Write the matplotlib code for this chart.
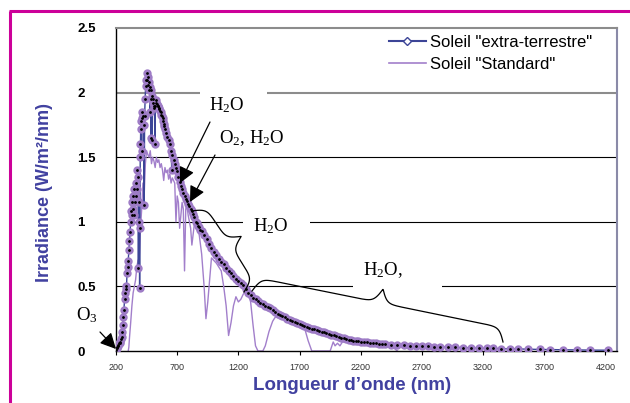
import numpy as np
import matplotlib
matplotlib.use("Agg")
import matplotlib.pyplot as plt
from matplotlib.lines import Line2D
from matplotlib.patches import Rectangle

plt.rcParams['font.family'] = ['Liberation Sans', 'DejaVu Sans']
plt.rcParams['mathtext.fontset'] = 'custom'
plt.rcParams['mathtext.rm'] = 'Liberation Serif'
plt.rcParams['mathtext.it'] = 'Liberation Serif:italic'
plt.rcParams['mathtext.bf'] = 'Liberation Serif:bold'

# ---------------- data ----------------
et_nm = [200, 205, 210, 215, 220, 225, 230, 235, 240, 245, 250, 255, 260, 265, 270, 275, 280, 285, 290, 295,
         300, 305, 310, 315, 320, 324, 328, 332, 336, 340, 345, 350, 355, 360, 365, 370, 375, 380, 383, 386,
         390, 393, 396, 398, 400, 403, 406, 410, 413, 416, 420, 425, 430, 434, 438, 442, 446, 450, 454, 458,
         462, 466, 470, 474, 478, 482, 486, 490, 494, 498, 502, 506, 510, 514, 518, 522, 526, 530, 535, 540,
         545, 550, 555, 560, 565, 570, 575, 580, 585, 590, 595, 600, 610, 620, 630, 640, 650, 656, 660, 670,
         680, 690, 700, 710, 720, 730, 740, 750, 760, 770, 780, 790, 800, 810, 820, 830, 840, 850, 860, 870,
         880, 890, 900, 920, 940, 960, 980, 1000, 1020, 1040, 1060, 1080, 1100, 1120, 1140, 1160, 1180, 1200,
         1220, 1240, 1260, 1280, 1300, 1320, 1340, 1360, 1380, 1400, 1420, 1440, 1460, 1480, 1500, 1520, 1540,
         1560, 1580, 1600, 1620, 1640, 1660, 1680, 1700, 1720, 1740, 1760, 1780, 1800, 1820, 1840, 1860, 1880,
         1900, 1920, 1940, 1960, 1980, 2000, 2020, 2040, 2060, 2080, 2100, 2120, 2140, 2160, 2180, 2200, 2225,
         2250, 2275, 2300, 2325, 2350, 2375, 2400, 2450, 2500, 2550, 2600, 2650, 2700, 2750, 2800, 2850, 2910,
         2970, 3035, 3100, 3170, 3230, 3280, 3350, 3420, 3485, 3565, 3665, 3745, 3850, 3965, 4070, 4220]
et_val = [0.01, 0.02, 0.03, 0.04, 0.05, 0.06, 0.07, 0.06, 0.09, 0.11, 0.15, 0.2, 0.26, 0.32, 0.4, 0.45, 0.5, 0.48, 0.6, 0.65,
          0.7, 0.78, 0.85, 0.92, 1.0, 1.08, 1.15, 1.05, 1.1, 1.2, 1.05, 1.25, 1.15, 1.3, 1.2, 1.4, 1.25, 1.35, 0.64, 1.15,
          1.0, 0.49, 0.95, 1.5, 1.6, 1.78, 1.72, 1.55, 1.8, 1.85, 1.82, 1.75, 1.13, 1.82, 1.95, 2.05, 2.1, 2.15, 2.1, 2.12,
          2.06, 2.08, 2.02, 2.04, 1.85, 2.02, 1.65, 1.95, 1.63, 1.97, 1.92, 1.95, 1.9, 1.88, 1.6, 1.9, 1.92, 1.94, 1.91, 1.9,
          1.9, 1.88, 1.87, 1.86, 1.85, 1.83, 1.82, 1.8, 1.78, 1.76, 1.74, 1.72, 1.69, 1.66, 1.63, 1.6, 1.55, 1.4, 1.52, 1.48,
          1.45, 1.42, 1.39, 1.35, 1.31, 1.28, 1.25, 1.22, 1.2, 1.18, 1.16, 1.14, 1.12, 1.1, 1.08, 1.06, 1.04, 1.0, 0.99, 0.97,
          0.96, 0.94, 0.93, 0.9, 0.87, 0.83, 0.8, 0.77, 0.74, 0.71, 0.69, 0.67, 0.64, 0.62, 0.6, 0.58, 0.56, 0.54,
          0.525, 0.51, 0.48, 0.45, 0.43, 0.41, 0.4, 0.385, 0.37, 0.36, 0.35, 0.34, 0.33, 0.315, 0.3, 0.29, 0.28,
          0.27, 0.26, 0.25, 0.24, 0.232, 0.224, 0.216, 0.208, 0.2, 0.193, 0.186, 0.18, 0.174, 0.168, 0.162, 0.156, 0.15,
          0.144, 0.138, 0.132, 0.126, 0.12, 0.114, 0.108, 0.102, 0.097, 0.092, 0.087, 0.084, 0.081, 0.078, 0.075, 0.072, 0.069,
          0.066, 0.063, 0.061, 0.059, 0.057, 0.055, 0.053, 0.05, 0.047, 0.044, 0.042, 0.04, 0.038, 0.036, 0.034, 0.032, 0.03,
          0.028, 0.026, 0.024, 0.022, 0.021, 0.02, 0.018, 0.017, 0.016, 0.014, 0.012, 0.011, 0.009, 0.008, 0.007, 0.006]

std_nm = [300, 305, 310, 320, 330, 340, 350, 360, 370, 380, 390, 400, 410, 420, 430, 440, 450, 460, 470, 480,
          490, 500, 510, 520, 530, 540, 550, 560, 570, 580, 590, 600, 610, 620, 630, 640, 650, 660, 670, 680,
          690, 700, 710, 720, 730, 740, 750, 760, 770, 780, 790, 800, 810, 820, 830, 840, 860, 880, 900, 920,
          935, 950, 965, 980, 1000, 1020, 1040, 1060, 1080, 1100, 1120, 1140, 1160, 1180, 1200, 1220, 1240, 1260,
          1280, 1300, 1320, 1340, 1360, 1400, 1420, 1450, 1480, 1500, 1520, 1560, 1600, 1650, 1700, 1740, 1770,
          1800, 1950, 1975, 1990, 2010, 2030, 2050, 2100, 2150, 2200, 2300, 2400, 2450, 2480, 2500]
std_val = [0.0, 0.03, 0.1, 0.22, 0.35, 0.45, 0.5, 0.55, 0.65, 0.7, 0.72, 0.95, 1.1, 1.3, 1.2, 1.45, 1.55, 1.52, 1.5, 1.55,
           1.45, 1.5, 1.47, 1.42, 1.5, 1.46, 1.48, 1.42, 1.45, 1.4, 1.32, 1.42, 1.38, 1.4, 1.33, 1.37, 1.3, 1.34, 1.32, 1.3,
           1.0, 1.2, 1.15, 0.95, 1.05, 1.15, 1.1, 0.62, 1.1, 1.12, 1.05, 1.0, 0.95, 0.82, 0.9, 0.98, 0.95, 0.9, 0.75, 0.5,
           0.25, 0.38, 0.55, 0.72, 0.7, 0.68, 0.65, 0.62, 0.5, 0.35, 0.12, 0.22, 0.35, 0.42, 0.38, 0.4, 0.44, 0.46,
           0.45, 0.38, 0.2, 0.04, 0.0, 0.0, 0.04, 0.15, 0.23, 0.26, 0.27, 0.26, 0.24, 0.23, 0.21, 0.18, 0.08,
           0.0, 0.0, 0.07, 0.04, 0.06, 0.04, 0.07, 0.075, 0.07, 0.065, 0.055, 0.045, 0.035, 0.015, 0.0]

x_ticks = [200, 700, 1200, 1700, 2200, 2700, 3200, 3700, 4200]
y_ticks = [0, 0.5, 1, 1.5, 2, 2.5]
y_tick_labels = ["0", "0.5", "1", "1.5", "2", "2.5"]
legend_labels = ['Soleil "extra-terrestre"', 'Soleil "Standard"']

# ---------------- style ----------------
NAVY = '#3c4597'
PURPLE = '#9e7cc6'
STD = '#a27fcb'
LABEL = '#4141a0'
MAGENTA = '#cc0099'
GREY = '#8c8c8c'

W, H = 630, 403
fig = plt.figure(figsize=(W / 100, H / 100), dpi=100)
ax = fig.add_axes([116 / W, 1 - 351 / H, (617 - 116) / W, (351 - 28) / H])
ax.set_xlim(200, 4294)
ax.set_ylim(0, 2.5)

# gridlines
for yv in [0.5, 1.0, 1.5]:
    ax.axhline(yv, color='black', lw=0.8, zorder=1)
ax.axhline(2.0, color=GREY, lw=1.5, zorder=1)

# spines
ax.spines['top'].set_color(GREY)
ax.spines['top'].set_linewidth(1.5)
ax.spines['right'].set_color('#8a8aa8')
ax.spines['right'].set_linewidth(1.5)
ax.spines['left'].set_color('black')
ax.spines['left'].set_linewidth(1.0)
ax.spines['bottom'].set_color('black')
ax.spines['bottom'].set_linewidth(1.0)

ax.set_xticks(x_ticks)
ax.set_xticklabels([str(v) for v in x_ticks], fontsize=6.5, color='#333333')
ax.tick_params(axis='x', length=3, width=0.8, pad=6)
ax.set_yticks(y_ticks)
ax.set_yticklabels(y_tick_labels, fontsize=9.5, fontweight='bold')
ax.tick_params(axis='y', length=0, pad=28)
for lab in ax.get_yticklabels():
    lab.set_horizontalalignment('left')

# white text boxes that hide gridlines
def px2data(xp, yp):
    return 200 + (xp - 116) * 4000 / 489.5, (351 - yp) / 129.2

for (x0, y0, x1, y1) in [(200, 88, 267, 118), (243, 214, 310, 240), (353, 258, 442, 292)]:
    dx0, dy0 = px2data(x0, y1)
    dx1, dy1 = px2data(x1, y0)
    ax.add_patch(Rectangle((dx0, dy0), dx1 - dx0, dy1 - dy0, facecolor='white',
                           edgecolor='none', zorder=1.5))

# curves
ax.plot(std_nm, std_val, color=STD, lw=1.0, zorder=2)
ax.plot(et_nm, et_val, color=NAVY, lw=1.0, zorder=3)
ax.plot(et_nm, et_val, ls='none', marker='o', ms=5.0, mfc=PURPLE, mec=PURPLE, zorder=4)
ax.plot(et_nm, et_val, ls='none', marker='o', ms=1.0, mfc='black', mec='black', zorder=5)

# legend
handles = [Line2D([], [], color=NAVY, lw=1.5, marker='D', ms=4.5, mfc='white', mec=NAVY),
           Line2D([], [], color=STD, lw=1.2)]
fig.legend(handles, legend_labels, loc='upper left', bbox_to_anchor=(389 / W, 1 - 35 / H),
           frameon=False, fontsize=12, handlelength=2.2, handletextpad=0.25,
           labelspacing=0.4, borderpad=0, borderaxespad=0)

# axis titles
fig.text(352 / W, 1 - 386 / H, "Longueur d\u2019onde (nm)", ha='center', va='center',
         fontsize=13.5, fontweight='bold', color=LABEL)
fig.text(45 / W, 1 - 193 / H, "Irradiance (W/m\u00b2/nm)", ha='center', va='center',
         rotation=90, fontsize=13, fontweight='bold', color=LABEL)

# annotation texts
serif = dict(family=['Liberation Serif', 'DejaVu Serif'], fontsize=13.5, color='black', zorder=7)
for (xp, yp, s) in [(227, 105, r'H$_2$O'), (252, 138, r'O$_2$, H$_2$O'), (271, 226, r'H$_2$O'),
                    (383, 270, r'H$_2$O,'), (87, 315, r'O$_3$')]:
    dx, dy = px2data(xp, yp)
    ax.text(dx, dy, s, ha='center', va='center', clip_on=False, **serif)

# arrows
for (p0, p1) in [((210, 122), (180, 183)), ((215, 155), (190, 202)), ((100, 332), (116, 349))]:
    a = px2data(*p0)
    b = px2data(*p1)
    ax.annotate('', xy=b, xytext=a, annotation_clip=False,
                arrowprops=dict(arrowstyle='-|>,head_length=0.6,head_width=0.3', color='black',
                                lw=0.9, mutation_scale=16, shrinkA=0, shrinkB=0), zorder=6)

# curly braces
fig.canvas.draw()

def brace(p1_px, p2_px, h=28.0, c=3.3):
    P1 = ax.transData.transform(px2data(*p1_px))
    P2 = ax.transData.transform(px2data(*p2_px))
    d = P2 - P1
    L = np.hypot(*d)
    e = d / L
    n = np.array([-e[1], e[0]])
    if n[1] < 0:
        n = -n
    u = np.linspace(0, L, 600)
    half = L / 2
    s = lambda x: 1 / (1 + np.exp(-x / c))
    v1 = lambda uu: s(uu) + s(uu - half) - 0.5
    v = np.where(u <= half, v1(u), v1(L - u))
    pts = P1[None, :] + u[:, None] * e[None, :] + (h * v)[:, None] * n[None, :]
    dpts = ax.transData.inverted().transform(pts)
    ax.plot(dpts[:, 0], dpts[:, 1], color='black', lw=0.9, zorder=6, clip_on=False)

brace((191.5, 211), (244, 292))
brace((252, 291), (503, 342))

# magenta frame
fig.add_artist(Line2D([9.5 / W, 9.5 / W], [0, 1 - 10.5 / H], transform=fig.transFigure,
                      color=MAGENTA, lw=2.2, solid_capstyle='butt'))
fig.add_artist(Line2D([8.5 / W, 1], [1 - 10.5 / H, 1 - 10.5 / H], transform=fig.transFigure,
                      color=MAGENTA, lw=2.2, solid_capstyle='butt'))

fig.savefig('out.png', dpi=100)
